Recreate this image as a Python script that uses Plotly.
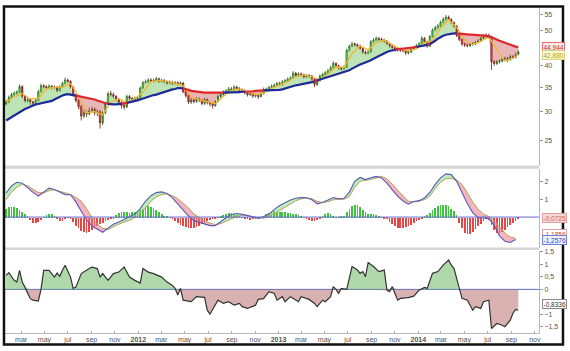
import math
import pandas as pd
import plotly.graph_objects as go

# ---------------- data (weekly, first week ending 2011-01-21) ----------------
week0 = "2011-01-21"
first_open = 31.5
closes = [
    31.9, 32.8, 33.4, 33.7, 33.9, 35.1, 33.0, 32.1, 32.4, 31.9,
    31.6, 32.2, 34.0, 35.3, 35.1, 34.8, 35.2, 34.9, 35.0, 34.2,
    35.0, 35.8, 36.6, 36.3, 35.0, 33.3, 32.2, 31.0, 29.2, 29.8,
    29.6, 30.2, 30.5, 29.8, 30.0, 28.0, 29.8, 31.5, 33.6, 33.4,
    33.0, 32.4, 31.8, 31.2, 30.9, 33.0, 32.6, 32.3, 32.6, 32.5,
    34.8, 36.0, 36.2, 36.6, 36.4, 36.5, 36.9, 36.3, 36.5, 36.2,
    35.9, 36.1, 35.8, 36.0, 35.7, 35.9, 34.0, 33.2, 31.9, 32.3,
    32.0, 32.5, 32.3, 31.6, 32.4, 31.8, 31.5, 31.2, 32.0, 33.0,
    33.4, 33.9, 34.2, 34.6, 34.4, 35.0, 34.7, 34.3, 34.2, 33.8,
    33.4, 33.6, 33.1, 33.2, 33.0, 33.6, 34.5, 34.3, 34.9, 35.2,
    35.4, 35.8, 35.6, 36.2, 36.4, 36.8, 37.0, 38.2, 37.6, 38.0,
    37.8, 37.3, 37.6, 37.5, 36.8, 35.6, 36.5, 37.5, 37.9, 38.3,
    38.7, 39.5, 40.6, 40.0, 39.4, 39.2, 39.6, 44.0, 45.2, 45.9,
    45.6, 45.3, 44.6, 43.6, 43.3, 43.6, 46.5, 47.0, 47.5, 47.2,
    47.0, 46.7, 46.0, 45.3, 44.8, 44.2, 44.4, 44.1, 44.0, 43.4,
    43.6, 44.5, 44.8, 45.4, 45.9, 47.5, 46.5, 45.3, 48.0, 50.0,
    50.8, 51.3, 52.5, 53.5, 54.2, 53.5, 52.4, 51.3, 48.4, 47.2,
    45.9, 45.6, 45.4, 45.8, 45.9, 46.3, 46.8, 47.5, 47.9, 48.4,
    48.0, 41.0, 40.6, 41.0, 41.2, 41.7, 41.9, 41.6, 42.4, 42.2,
    43.0, 43.6,
]
highs = [
    32.3, 33.2, 33.8, 34.1, 34.3, 35.6, 35.4, 33.3, 32.8, 32.7,
    32.2, 32.6, 34.4, 35.8, 35.7, 35.4, 35.6, 35.5, 35.4, 35.2,
    35.4, 36.2, 37.2, 36.9, 36.5, 35.2, 33.6, 32.5, 31.3, 30.4,
    30.3, 30.8, 31.0, 30.8, 30.5, 30.3, 30.2, 31.9, 34.0, 34.2,
    33.8, 33.3, 32.7, 32.1, 31.5, 33.4, 33.3, 32.9, 33.0, 33.0,
    35.2, 36.4, 36.7, 37.0, 37.0, 36.9, 37.3, 37.1, 36.9, 36.8,
    36.5, 36.5, 36.4, 36.4, 36.3, 36.3, 36.1, 34.3, 33.4, 32.7,
    32.6, 32.9, 32.8, 32.5, 32.8, 32.6, 32.1, 31.8, 32.3, 33.4,
    33.8, 34.3, 34.6, 35.0, 35.0, 35.4, 35.3, 35.0, 34.7, 34.5,
    34.1, 34.0, 33.9, 33.6, 33.5, 34.0, 34.9, 34.9, 35.3, 35.6,
    35.8, 36.2, 36.2, 36.6, 36.8, 37.2, 37.4, 38.7, 38.5, 38.4,
    38.4, 38.1, 38.0, 38.0, 37.8, 37.0, 36.9, 37.9, 38.3, 38.7,
    39.2, 40.0, 41.2, 40.9, 40.3, 39.8, 40.1, 44.5, 45.7, 46.5,
    46.3, 46.0, 45.6, 44.9, 44.0, 44.1, 47.0, 47.6, 48.1, 47.9,
    47.7, 47.4, 47.0, 46.3, 45.7, 45.1, 44.9, 44.8, 44.6, 44.3,
    44.1, 45.0, 45.3, 45.9, 46.4, 48.2, 47.9, 46.8, 48.5, 50.6,
    51.4, 52.0, 53.1, 54.2, 55.0, 54.8, 53.9, 52.8, 51.6, 48.8,
    47.5, 46.3, 46.0, 46.3, 46.4, 46.8, 47.3, 48.0, 48.5, 49.0,
    48.9, 48.3, 41.5, 41.5, 41.7, 42.2, 42.4, 42.3, 42.9, 42.8,
    43.5, 44.1,
]
lows = [
    31.2, 31.6, 32.5, 33.0, 33.3, 33.7, 32.6, 31.8, 31.7, 31.3,
    31.0, 31.3, 32.0, 33.8, 34.7, 34.4, 34.5, 34.5, 34.5, 33.9,
    34.0, 34.8, 35.6, 35.9, 34.6, 33.0, 31.8, 30.5, 28.4, 28.8,
    29.0, 29.3, 29.8, 29.3, 29.2, 27.0, 27.6, 29.5, 31.3, 33.0,
    32.6, 32.0, 31.4, 30.6, 30.4, 30.7, 32.2, 31.9, 32.0, 32.1,
    32.3, 34.6, 35.7, 35.9, 36.0, 36.0, 36.2, 35.9, 36.0, 35.8,
    35.5, 35.6, 35.4, 35.5, 35.3, 35.4, 33.7, 32.8, 31.5, 31.5,
    31.6, 31.7, 31.9, 31.2, 31.3, 31.4, 31.0, 30.6, 30.9, 31.8,
    32.7, 33.1, 33.6, 33.9, 34.0, 34.1, 34.3, 33.9, 33.8, 33.4,
    33.0, 33.1, 32.7, 32.8, 32.5, 32.8, 33.4, 33.9, 34.0, 34.6,
    34.9, 35.1, 35.2, 35.3, 35.9, 36.1, 36.5, 36.8, 37.2, 37.3,
    37.4, 36.9, 37.0, 37.1, 36.4, 35.0, 35.3, 36.2, 37.2, 37.6,
    38.0, 38.4, 39.3, 39.6, 39.0, 38.8, 38.9, 39.4, 43.7, 44.9,
    45.1, 44.8, 44.2, 43.1, 42.8, 42.9, 43.4, 46.1, 46.6, 46.7,
    46.5, 46.2, 45.5, 44.8, 44.3, 43.7, 43.7, 43.6, 43.5, 42.8,
    42.9, 43.3, 44.1, 44.4, 45.0, 45.6, 46.0, 44.8, 45.0, 47.7,
    49.6, 50.3, 50.9, 52.1, 53.0, 53.0, 51.9, 50.7, 47.9, 46.7,
    45.3, 45.0, 44.9, 45.0, 45.3, 45.5, 46.0, 46.5, 47.1, 47.5,
    47.5, 39.0, 40.0, 40.2, 40.6, 40.9, 41.3, 41.0, 41.3, 41.7,
    41.9, 42.8,
]
trend_ma = [
    28.4, 28.7, 29.0, 29.3, 29.6, 29.9, 30.2, 30.5, 30.7, 31.0,
    31.2, 31.4, 31.5, 31.7, 31.8, 31.9, 32.0, 32.1, 32.4, 32.7,
    33.0, 33.2, 33.4, 33.5, 33.4, 33.3, 33.2, 33.1, 33.0, 32.9,
    32.8, 32.7, 32.6, 32.4, 32.2, 32.0, 31.8, 31.6, 31.5, 31.4,
    31.4, 31.4, 31.5, 31.5, 31.6, 31.7, 31.8, 31.9, 32.0, 32.2,
    32.4, 32.6, 32.8, 33.0, 33.2, 33.3, 33.4, 33.6, 33.8, 34.0,
    34.2, 34.4, 34.5, 34.6, 34.8, 34.8, 34.7, 34.6, 34.4, 34.2,
    34.1, 34.0, 33.9, 33.9, 33.8, 33.8, 33.8, 33.8, 33.8, 33.8,
    33.8, 33.8, 33.8, 33.8, 33.8, 33.8, 33.9, 33.9, 34.0, 34.0,
    34.0, 34.1, 34.1, 34.2, 34.2, 34.3, 34.3, 34.3, 34.3, 34.4,
    34.4, 34.4, 34.4, 34.5, 34.7, 34.9, 35.0, 35.2, 35.4, 35.5,
    35.6, 35.8, 35.9, 36.0, 36.1, 36.3, 36.5, 36.7, 36.9, 37.1,
    37.3, 37.5, 37.7, 37.9, 38.1, 38.3, 38.5, 38.6, 38.9, 39.3,
    39.7, 40.0, 40.3, 40.6, 40.8, 41.0, 41.4, 41.8, 42.2, 42.5,
    42.8, 43.2, 43.6, 43.9, 44.1, 44.3, 44.4, 44.5, 44.6, 44.7,
    44.7, 44.8, 44.9, 45.0, 45.1, 45.3, 45.4, 45.6, 45.8, 46.2,
    46.8, 47.4, 47.9, 48.3, 48.6, 48.8, 48.9, 49.0, 49.0, 49.0,
    48.9, 48.8, 48.7, 48.6, 48.6, 48.5, 48.5, 48.4, 48.4, 48.3,
    48.1, 47.8, 47.4, 47.1, 46.8, 46.5, 46.2, 45.9, 45.6, 45.3,
    45.1, 44.944,
]
# fast average, read every third week (last one at the final week)
fast_weeks = list(range(0, 190, 3)) + [191]
fast_ma = [
    31.9, 32.9, 33.6, 32.5, 32.6, 34.6, 35.0, 35.0, 35.8, 33.1,
    29.8, 30.0, 29.4, 31.9, 32.6, 31.7, 32.6, 33.9, 36.2, 36.5,
    36.3, 35.9, 35.3, 33.0, 32.3, 31.9, 31.6, 33.0, 34.3, 34.6,
    34.0, 33.4, 33.7, 34.7, 35.5, 36.2, 37.4, 37.8, 37.3, 36.6,
    38.0, 39.7, 39.6, 43.2, 45.3, 44.2, 46.2, 47.0, 45.6, 44.4,
    43.9, 44.5, 46.2, 46.9, 50.7, 53.4, 50.9, 47.0, 45.7, 46.6,
    48.0, 44.2, 41.2, 42.0, 42.88,
]
# MACD panel, read every second week
macd_line = [
    1.35, 1.75, 1.95, 1.9, 1.65, 1.38, 1.17, 1.42, 1.62, 1.55,
    1.38, 1.25, 1.25, 0.85, 0.33, -0.15, -0.5, -0.7, -0.85, -0.62,
    -0.4, -0.28, -0.12, 0.0, 0.17, 0.47, 0.9, 1.2, 1.37, 1.41,
    1.32, 1.08, 0.75, 0.4, 0.06, -0.2, -0.3, -0.38, -0.48, -0.48,
    -0.25, -0.04, 0.14, 0.2, 0.15, 0.07, -0.02, -0.06, 0.02, 0.17,
    0.43, 0.65, 0.8, 0.96, 1.05, 1.09, 1.08, 0.97, 0.74, 0.82,
    0.95, 1.09, 1.03, 1.05, 1.4, 2.0, 2.22, 2.1, 2.2, 2.28,
    2.19, 1.9, 1.52, 1.17, 0.9, 0.72, 0.87, 0.92, 1.07, 1.38,
    1.83, 2.2, 2.42, 2.38, 2.0, 1.4, 0.75, 0.25, -0.03, -0.04,
    -0.1, -0.45, -1.05, -1.35, -1.42, -1.2576,
]
signal_line = [
    0.98, 1.38, 1.68, 1.84, 1.75, 1.55, 1.37, 1.35, 1.48, 1.53,
    1.45, 1.34, 1.27, 1.1, 0.89, 0.48, -0.02, -0.4, -0.62, -0.69,
    -0.53, -0.4, -0.28, -0.18, -0.02, 0.2, 0.52, 0.88, 1.13, 1.26,
    1.3, 1.2, 1.03, 0.78, 0.52, 0.17, -0.05, -0.22, -0.34, -0.41,
    -0.37, -0.24, -0.08, 0.04, 0.1, 0.1, 0.02, -0.05, -0.06, 0.01,
    0.19, 0.38, 0.55, 0.72, 0.91, 1.02, 1.07, 1.03, 0.88, 0.81,
    0.86, 0.97, 0.98, 1.0, 1.15, 1.67, 2.01, 2.05, 2.11, 2.19,
    2.28, 2.14, 1.85, 1.5, 1.17, 0.89, 0.85, 0.88, 0.98, 1.17,
    1.6, 1.95, 2.15, 2.17, 2.08, 1.82, 1.35, 0.85, 0.45, 0.17,
    0.03, -0.2, -0.55, -0.9, -1.12, -1.1856,
]
hist = [
    0.5, 0.58, 0.6, 0.58, 0.55, 0.45, 0.3, 0.18, 0.05, -0.15,
    -0.3, -0.32, -0.25, -0.12, 0.02, 0.12, 0.2, 0.18, 0.08, -0.1,
    -0.2, -0.18, -0.08, 0.02, -0.1, -0.25, -0.45, -0.6, -0.75, -0.82,
    -0.85, -0.8, -0.72, -0.6, -0.48, -0.38, -0.3, -0.22, -0.15, -0.08,
    -0.03, 0.12, 0.25, 0.3, 0.32, 0.3, 0.28, 0.3, 0.32, 0.35,
    0.42, 0.5, 0.58, 0.62, 0.6, 0.55, 0.45, 0.32, 0.2, 0.1,
    0.05, 0.02, -0.08, -0.2, -0.32, -0.42, -0.5, -0.55, -0.6, -0.6,
    -0.58, -0.52, -0.45, -0.38, -0.3, -0.22, -0.15, -0.1, -0.05, -0.02,
    0.08, 0.15, 0.22, 0.25, 0.24, 0.2, 0.15, 0.08, 0.03, -0.05,
    -0.1, -0.12, -0.1, -0.08, -0.05, -0.02, 0.1, 0.2, 0.28, 0.33,
    0.35, 0.33, 0.32, 0.3, 0.3, 0.28, 0.25, 0.22, 0.18, 0.12,
    0.06, 0.02, -0.05, -0.15, -0.22, -0.2, -0.12, -0.04, 0.08, 0.18,
    0.24, 0.2, 0.1, 0.03, 0.02, 0.05, 0.1, 0.3, 0.5, 0.65,
    0.72, 0.7, 0.6, 0.45, 0.3, 0.18, 0.2, 0.22, 0.15, 0.08,
    0.02, -0.05, -0.1, -0.25, -0.38, -0.5, -0.58, -0.6, -0.6, -0.55,
    -0.48, -0.4, -0.3, -0.2, -0.12, -0.05, 0.05, 0.15, 0.28, 0.4,
    0.52, 0.62, 0.68, 0.72, 0.7, 0.62, 0.5, 0.35, 0.15, -0.3,
    -0.6, -0.85, -0.93, -0.9, -0.8, -0.65, -0.5, -0.35, -0.2, -0.1,
    -0.15, -0.4, -0.7, -0.85, -0.87, -0.8, -0.68, -0.55, -0.42, -0.3,
    -0.18, -0.0725,
]
# lower oscillator (week number, value)
osc_weeks = [
    0, 1, 3, 4, 5, 6, 7, 9, 10, 12, 13, 14, 16, 18, 19, 20, 21, 22, 24, 25,
    26, 28, 31, 32, 34, 35, 36, 38, 40, 42, 44, 46, 48, 50, 51, 53, 55, 58, 60, 62,
    63, 64, 65, 66, 69, 71, 74, 75, 76, 78, 79, 81, 83, 85, 87, 88, 90, 93, 94, 96,
    98, 100, 101, 103, 104, 106, 109, 110, 113, 115, 116, 118, 119, 121, 122, 123, 124, 125, 127, 129,
    131, 132, 133, 134, 135, 137, 139, 141, 142, 143, 144, 146, 147, 150, 152, 154, 156, 157, 159, 161,
    163, 165, 166, 167, 169, 170, 172, 173, 174, 175, 177, 178, 180, 181, 183, 185, 186, 188, 189, 190,
    191,
]
osc_vals = [
    0.56, 0.67, 0.36, 0.29, 0.76, 0.29, 0.09, -0.37, -0.43, -0.47, 0.0, 0.76, 0.76, 0.49, 0.65, 0.52, 0.76, 0.96, 0.49, 0.04,
    0.09, 0.63, 0.83, 0.89, 0.83, 0.49, 0.63, 0.36, 0.63, 0.69, 0.89, 0.49, 0.36, 0.25, 0.83, 0.69, 0.63, 0.49, 0.29, 0.16,
    0.04, -0.23, 0.04, -0.43, -0.49, -0.29, -0.32, -0.83, -0.99, -0.63, -0.43, -0.56, -0.49, -0.63, -0.56, -0.69, -0.76, -0.63, -0.4, -0.37,
    -0.09, -0.16, -0.43, -0.29, -0.49, -0.29, -0.49, -0.29, -0.4, -0.56, -0.69, -0.43, -0.49, -0.29, 0.11, 0.0, -0.16, 0.04, 0.0, 0.91,
    0.77, 0.64, 0.71, 0.51, 1.07, 0.91, 0.71, 0.77, -0.03, -0.09, 0.11, -0.43, -0.36, -0.33, -0.27, -0.03, 0.08, 0.04, 0.64, 0.71,
    0.97, 1.17, 0.97, 0.84, 0.0, -0.36, -0.43, -0.63, -0.83, -0.69, -0.76, -0.49, -0.43, -1.56, -1.36, -1.43, -1.49, -1.23, -0.95, -0.8,
    -0.8336,
]
tick_dates = [
    "2011-03-01", "2011-05-01", "2011-07-01", "2011-09-01", "2011-11-01",
    "2012-01-01", "2012-03-01", "2012-05-01", "2012-07-01", "2012-09-01", "2012-11-01",
    "2013-01-01", "2013-03-01", "2013-05-01", "2013-07-01", "2013-09-01", "2013-11-01",
    "2014-01-01", "2014-03-01", "2014-05-01", "2014-07-01", "2014-09-01", "2014-11-01",
]
tick_text = [
    "mar", "may", "jul", "sep", "nov",
    "<b>2012</b>", "mar", "may", "jul", "sep", "nov",
    "<b>2013</b>", "mar", "may", "jul", "sep", "nov",
    "<b>2014</b>", "mar", "may", "jul", "sep", "nov",
]

n = len(closes)
assert len(highs) == n and len(lows) == n and len(trend_ma) == n and len(hist) == n
assert len(fast_ma) == len(fast_weeks)
assert len(macd_line) == len(signal_line) == 96
assert len(osc_vals) == len(osc_weeks)

dates = list(pd.date_range(week0, periods=n, freq="7D"))
opens = [first_open] + closes[:-1]
macd_dates = dates[::2]
fast_dates = [dates[w] for w in fast_weeks]
osc_dates = [dates[w] for w in osc_weeks]

FONT = "Liberation Sans, Arial, sans-serif"
fig = go.Figure()


def hidden(x, y, yaxis):
    return go.Scatter(x=x, y=y, mode="lines", line=dict(width=0), yaxis=yaxis,
                      hoverinfo="skip", showlegend=False)


# ---------------- price panel ----------------
upper = [max(c, m) for c, m in zip(closes, trend_ma)]
lower = [min(c, m) for c, m in zip(closes, trend_ma)]
fig.add_trace(hidden(dates, trend_ma, "y"))
fig.add_trace(go.Scatter(x=dates, y=upper, mode="lines", line=dict(width=0), fill="tonexty",
                         fillcolor="rgba(110,195,90,0.45)", yaxis="y", hoverinfo="skip", showlegend=False))
fig.add_trace(hidden(dates, trend_ma, "y"))
fig.add_trace(go.Scatter(x=dates, y=lower, mode="lines", line=dict(width=0), fill="tonexty",
                         fillcolor="rgba(200,80,80,0.42)", yaxis="y", hoverinfo="skip", showlegend=False))

fig.add_trace(go.Scatter(x=fast_dates, y=fast_ma, mode="lines", line=dict(color="#f2b630", width=1.3),
                         yaxis="y", hoverinfo="skip", showlegend=False))

fig.add_trace(go.Candlestick(
    x=dates, open=opens, high=highs, low=lows, close=closes, yaxis="y",
    increasing=dict(line=dict(color="#245f1a", width=0.8), fillcolor="#52c540"),
    decreasing=dict(line=dict(color="#6e1a16", width=0.8), fillcolor="#c8433a"),
    whiskerwidth=0, showlegend=False, hoverinfo="skip"))

above = [c >= m for c, m in zip(closes, trend_ma)]
blue_y = [None] * n
red_y = [None] * n
for i in range(n):
    tgt = blue_y if above[i] else red_y
    tgt[i] = trend_ma[i]
    if i + 1 < n:
        tgt[i + 1] = trend_ma[i + 1]
fig.add_trace(go.Scatter(x=dates, y=blue_y, mode="lines", line=dict(color="#1d2b9a", width=2.2),
                         yaxis="y", hoverinfo="skip", showlegend=False, connectgaps=False))
fig.add_trace(go.Scatter(x=dates, y=red_y, mode="lines", line=dict(color="#e0262a", width=2.2),
                         yaxis="y", hoverinfo="skip", showlegend=False, connectgaps=False))

# ---------------- MACD panel ----------------
m_up = [max(a, b) for a, b in zip(macd_line, signal_line)]
m_dn = [min(a, b) for a, b in zip(macd_line, signal_line)]
fig.add_trace(hidden(macd_dates, signal_line, "y2"))
fig.add_trace(go.Scatter(x=macd_dates, y=m_up, mode="lines", line=dict(width=0), fill="tonexty",
                         fillcolor="rgba(130,220,120,0.55)", yaxis="y2", hoverinfo="skip", showlegend=False))
fig.add_trace(hidden(macd_dates, signal_line, "y2"))
fig.add_trace(go.Scatter(x=macd_dates, y=m_dn, mode="lines", line=dict(width=0), fill="tonexty",
                         fillcolor="rgba(235,120,135,0.55)", yaxis="y2", hoverinfo="skip", showlegend=False))
fig.add_trace(go.Bar(x=dates, y=hist, yaxis="y2", width=1.9 * 86400000,
                     marker=dict(color=["#3fc23f" if v >= 0 else "#e84545" for v in hist], line=dict(width=0)),
                     hoverinfo="skip", showlegend=False))
fig.add_trace(go.Scatter(x=macd_dates, y=signal_line, mode="lines", line=dict(color="#b4a060", width=1),
                         yaxis="y2", hoverinfo="skip", showlegend=False))
fig.add_trace(go.Scatter(x=macd_dates, y=macd_line, mode="lines", line=dict(color="#5a5ab8", width=1.1),
                         yaxis="y2", hoverinfo="skip", showlegend=False))

# ---------------- oscillator panel ----------------
o_pos = [max(v, 0) for v in osc_vals]
o_neg = [min(v, 0) for v in osc_vals]
fig.add_trace(go.Scatter(x=osc_dates, y=o_pos, mode="lines", line=dict(width=0), fill="tozeroy",
                         fillcolor="rgba(110,185,100,0.55)", yaxis="y3", hoverinfo="skip", showlegend=False))
fig.add_trace(go.Scatter(x=osc_dates, y=o_neg, mode="lines", line=dict(width=0), fill="tozeroy",
                         fillcolor="rgba(180,100,100,0.5)", yaxis="y3", hoverinfo="skip", showlegend=False))
fig.add_trace(go.Scatter(x=osc_dates, y=osc_vals, mode="lines", line=dict(color="#333333", width=1.2),
                         yaxis="y3", hoverinfo="skip", showlegend=False))

# ---------------- layout ----------------
axis_font = dict(family=FONT, size=7, color="#555555")
yax_common = dict(side="right", anchor="x", showgrid=False, zeroline=False, showline=True,
                  linecolor="#b8b8b8", linewidth=1, ticks="outside", ticklen=3, tickcolor="#999999",
                  tickfont=axis_font, fixedrange=True)

shapes = [
    dict(type="line", xref="paper", x0=0, x1=1, yref="y2", y0=0, y1=0,
         line=dict(color="#6a6ad0", width=1), layer="above"),
    dict(type="line", xref="paper", x0=0, x1=1, yref="y3", y0=0, y1=0,
         line=dict(color="#5a6fd0", width=1), layer="below"),
    dict(type="rect", xref="paper", yref="paper", x0=0, x1=1, y0=0.5052, y1=0.5152,
         fillcolor="#d4d7d7", line=dict(width=0), layer="above"),
    dict(type="rect", xref="paper", yref="paper", x0=0, x1=1, y0=0.2552, y1=0.2631,
         fillcolor="#d4d7d7", line=dict(width=0), layer="above"),
    dict(type="rect", xref="paper", yref="paper", x0=-0.0019, x1=1.0449, y0=-0.0351, y1=1.0046,
         fillcolor="rgba(0,0,0,0)", line=dict(color="#111111", width=2.5), layer="above"),
]


def tag(text, yref, y, color, bg, border):
    return dict(xref="paper", x=1.0056, xanchor="left", yref=yref, y=y, yanchor="middle",
                text=text, showarrow=False, font=dict(family=FONT, size=6.5, color=color),
                bgcolor=bg, bordercolor=border, borderwidth=1, borderpad=0.5)


annotations = [
    tag("44,944", "y", math.log10(44.944), "#d02a2a", "#fde9e9", "#e07070"),
    tag("42,880", "y", math.log10(42.88), "#b0a020", "#fbf8d0", "#d8d080"),
    tag("-0,0725", "y2", -0.0725, "#d06060", "#f7d6d6", "#e0a0a0"),
    tag("-1,1856", "y2", -0.94, "#d04040", "#ffffff", "#e0a0a0"),
    tag("-1,2576", "y2", -1.2576, "#3040c0", "#eef0ff", "#7080d8"),
    tag("-0,8336", "y3", -0.6, "#333333", "#ffffff", "#888888"),
]

fig.update_layout(
    width=570, height=351,
    margin=dict(l=5, r=31, t=5, b=18),
    paper_bgcolor="white", plot_bgcolor="white",
    showlegend=False, separators=", ", boxgap=0.35, bargap=0,
    font=dict(family=FONT, size=7, color="#555555"),
    xaxis=dict(type="date", range=["2011-01-18", "2014-11-12"], anchor="y3",
               tickvals=tick_dates, ticktext=tick_text, showgrid=False, zeroline=False,
               showline=True, linecolor="#b8b8b8", ticks="inside", ticklen=2, tickcolor="#aaaaaa",
               tickfont=axis_font, rangeslider=dict(visible=False), fixedrange=True),
    yaxis=dict(domain=[0.5152, 1], type="log", range=[1.3307, 1.7593],
               tickvals=[25, 30, 35, 40, 50, 55], **yax_common),
    yaxis2=dict(domain=[0.2622, 0.5061], range=[-1.72, 2.72], tickvals=[1, 2], **yax_common),
    yaxis3=dict(domain=[0, 0.2530], range=[-1.74, 1.54],
                tickvals=[-1.5, -1, 0, 0.5, 1, 1.5], **yax_common),
    shapes=shapes, annotations=annotations,
)

fig.write_html("out.html")
